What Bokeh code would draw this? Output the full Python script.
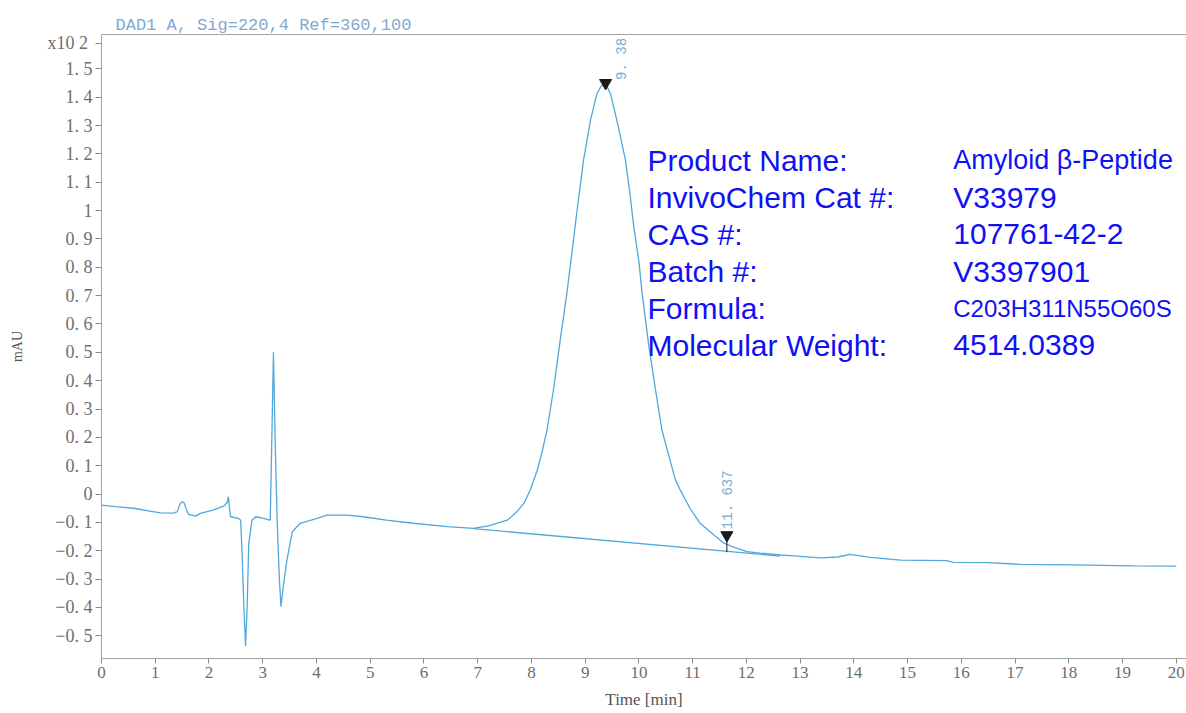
import math
from bokeh.plotting import figure
from bokeh.models import FixedTicker, LinearAxis, Range1d
from bokeh.core.properties import value
from bokeh.embed import file_html
from bokeh.resources import INLINE

# ---------------- data ----------------
# Early part of the chromatogram (time in min, signal in x10^2 mAU)
early_t = [0.00, 0.30, 0.60, 0.90, 1.10, 1.34, 1.41, 1.46, 1.50, 1.54, 1.58, 1.62,
           1.75, 1.84, 2.09, 2.28, 2.34, 2.36, 2.38, 2.40, 2.55, 2.59, 2.62, 2.65,
           2.68, 2.71, 2.74, 2.80, 2.87, 3.00, 3.08, 3.14, 3.17, 3.20, 3.23, 3.27,
           3.31, 3.34, 3.38, 3.45, 3.55, 3.70, 4.01, 4.20, 4.57, 4.87, 5.30, 5.80,
           6.43]
early_y = [-0.039, -0.045, -0.050, -0.060, -0.066, -0.067, -0.062, -0.035, -0.027, -0.032, -0.055, -0.072,
           -0.078, -0.068, -0.056, -0.042, -0.030, -0.009, -0.045, -0.080, -0.086, -0.092, -0.230, -0.400,
           -0.536, -0.400, -0.174, -0.092, -0.080, -0.085, -0.089, -0.092, 0.200, 0.500, 0.200, -0.100,
           -0.300, -0.397, -0.330, -0.233, -0.133, -0.103, -0.086, -0.074, -0.074, -0.080, -0.092, -0.103,
           -0.115]

# Main peak
peak_t = [6.92, 7.20, 7.55, 7.70, 7.86, 7.98, 8.11, 8.20, 8.29, 8.41, 8.53, 8.66,
          8.76, 8.85, 8.97, 9.10, 9.22, 9.30, 9.38, 9.47, 9.60, 9.75, 9.83, 9.905,
          10.00, 10.06, 10.18, 10.31, 10.43, 10.55, 10.68, 10.77, 10.95, 11.14, 11.40,
          11.58, 11.80, 12.01, 12.26]
peak_y = [-0.121, -0.112, -0.092, -0.068, -0.033, 0.015, 0.085, 0.150, 0.226, 0.367, 0.535, 0.709,
          0.860, 1.002, 1.178, 1.320, 1.413, 1.440, 1.447, 1.413, 1.310, 1.178, 1.065, 0.943,
          0.820, 0.709, 0.530, 0.367, 0.225, 0.140, 0.050, 0.014, -0.050, -0.103, -0.145,
          -0.173, -0.190, -0.203, -0.208]

# Tail
tail_t = [12.63, 12.76, 13.38, 13.70, 13.93, 14.31, 14.87, 15.73, 15.85, 16.48, 17.10, 18.09, 19.20, 20.00]
tail_y = [-0.215, -0.216, -0.225, -0.222, -0.213, -0.223, -0.233, -0.235, -0.241, -0.242, -0.248, -0.250, -0.253, -0.254]

# Integration baseline of the main peak
base_t = [6.92, 12.63]
base_y = [-0.122, -0.219]

# Peak annotations
peak_times = [9.38, 11.637]
peak_mark_y = [1.45, -0.145]
peak_labels = ["9. 38", "11. 637"]

# Axis ticks
x_ticks = list(range(0, 21))
y_ticks = [-0.5, -0.4, -0.3, -0.2, -0.1, 0.0, 0.1, 0.2, 0.3, 0.4, 0.5, 0.6, 0.7,
           0.8, 0.9, 1.0, 1.1, 1.2, 1.3, 1.4, 1.5]
y_tick_labels = ["\u22120. 5", "\u22120. 4", "\u22120. 3", "\u22120. 2", "\u22120. 1", "0",
                 "0. 1", "0. 2", "0. 3", "0. 4", "0. 5", "0. 6", "0. 7", "0. 8", "0. 9", "1",
                 "1. 1", "1. 2", "1. 3", "1. 4", "1. 5"]
exp_tick = 1.59
exp_label = "x10  2"

# Product info
info_keys = ["Product Name:", "InvivoChem Cat #:", "CAS #:", "Batch #:", "Formula:", "Molecular Weight:"]
info_vals = ["Amyloid \u03b2-Peptide", "V33979", "107761-42-2", "V3397901",
             "C203H311N55O60S", "4514.0389"]
info_val_sizes = ["27px", "30px", "30px", "30px", "24px", "30px"]

title_text = "DAD1 A, Sig=220,4 Ref=360,100"

# ---------------- figure ----------------
TRACE = "#52a8dc"
TICKC = "#6e6e6e"
AXC = "#a3a3a3"
SERIF = "Liberation Serif"
MONO = "Liberation Mono"
BLUE = "#1010f5"

p = figure(width=1186, height=713, x_range=Range1d(0, 20.19), y_range=Range1d(-0.58, 1.621),
           output_backend="svg", toolbar_location=None,
           min_border_left=101, min_border_right=0, min_border_top=34, min_border_bottom=55,
           background_fill_color="white", border_fill_color="white")
p.outline_line_color = None
p.grid.visible = False

# title
p.title.text = title_text
p.title.align = "left"
p.title.offset = 14
p.title.standoff = 0
p.title.text_font = MONO
p.title.text_font_size = "17px"
p.title.text_font_style = "normal"
p.title.text_color = "#7fa8d2"

# x axis
xa = p.xaxis[0]
xa.ticker = FixedTicker(ticks=x_ticks)
xa.minor_tick_line_color = None
xa.major_tick_out = 5
xa.major_tick_in = 0
xa.major_tick_line_color = "#8a8a8a"
xa.axis_line_color = AXC
xa.major_label_text_font = SERIF
xa.major_label_text_font_size = "17px"
xa.major_label_text_color = TICKC
xa.major_label_standoff = 3
xa.axis_label = "Time [min]"
xa.axis_label_text_font = SERIF
xa.axis_label_text_font_size = "17px"
xa.axis_label_text_font_style = "normal"
xa.axis_label_text_color = "#555555"
xa.axis_label_standoff = 9

# y axis
ya = p.yaxis[0]
ya.ticker = FixedTicker(ticks=y_ticks + [exp_tick])
overrides = {t: lab for t, lab in zip(y_ticks, y_tick_labels)}
overrides[exp_tick] = exp_label
ya.major_label_overrides = overrides
ya.minor_tick_line_color = None
ya.major_tick_out = 6
ya.major_tick_in = 0
ya.major_tick_line_color = "#8a8a8a"
ya.axis_line_color = AXC
ya.major_label_text_font = SERIF
ya.major_label_text_font_size = "18px"
ya.major_label_text_color = TICKC
ya.major_label_standoff = 3
ya.axis_label = "mAU"
ya.axis_label_text_font = SERIF
ya.axis_label_text_font_size = "14px"
ya.axis_label_text_font_style = "normal"
ya.axis_label_text_color = "#555555"
ya.axis_label_standoff = 20

# top frame line
top = LinearAxis(ticker=FixedTicker(ticks=[]), axis_line_color=AXC,
                 major_tick_line_color=None, minor_tick_line_color=None,
                 major_label_text_font_size="0px", major_label_standoff=0)
p.add_layout(top, "above")

# traces
trace_t = early_t + peak_t + tail_t
trace_y = early_y + peak_y + tail_y
p.line(trace_t, trace_y, line_color=TRACE, line_width=1.3)
p.line(base_t, base_y, line_color=TRACE, line_width=1.3)

# peak markers
p.scatter(peak_times, peak_mark_y, marker="inverted_triangle", size=12,
          fill_color="#1a1a1a", line_color="#1a1a1a")
p.segment(x0=[peak_times[1]], y0=[peak_mark_y[1]], x1=[peak_times[1]], y1=[-0.205],
          line_color="#1a1a1a", line_width=1)
label_dx = [16, 1]
label_dy = [-3, -6]
for t, yv, lab, dx, dy in zip(peak_times, peak_mark_y, peak_labels, label_dx, label_dy):
    p.text(x=[t], y=[yv], text=[lab], angle=math.pi / 2, text_align="left",
           text_baseline="middle", x_offset=dx, y_offset=dy,
           text_font=value(MONO), text_font_size="14px", text_color="#7aafd3")

# product info block
row_y = [1.178 - i * 0.1305 for i in range(len(info_keys))]
p.text(x=[10.16] * len(info_keys), y=row_y, text=info_keys, text_align="left",
       text_baseline="middle", text_font=value("Liberation Sans"), text_font_size="30px",
       text_color=BLUE)
for yv, val, fs in zip(row_y, info_vals, info_val_sizes):
    p.text(x=[15.85], y=[yv], text=[val], text_align="left",
           text_baseline="middle", text_font=value("Liberation Sans"), text_font_size=fs,
           text_color=BLUE)

open("out.html", "w").write(file_html(p, INLINE))
